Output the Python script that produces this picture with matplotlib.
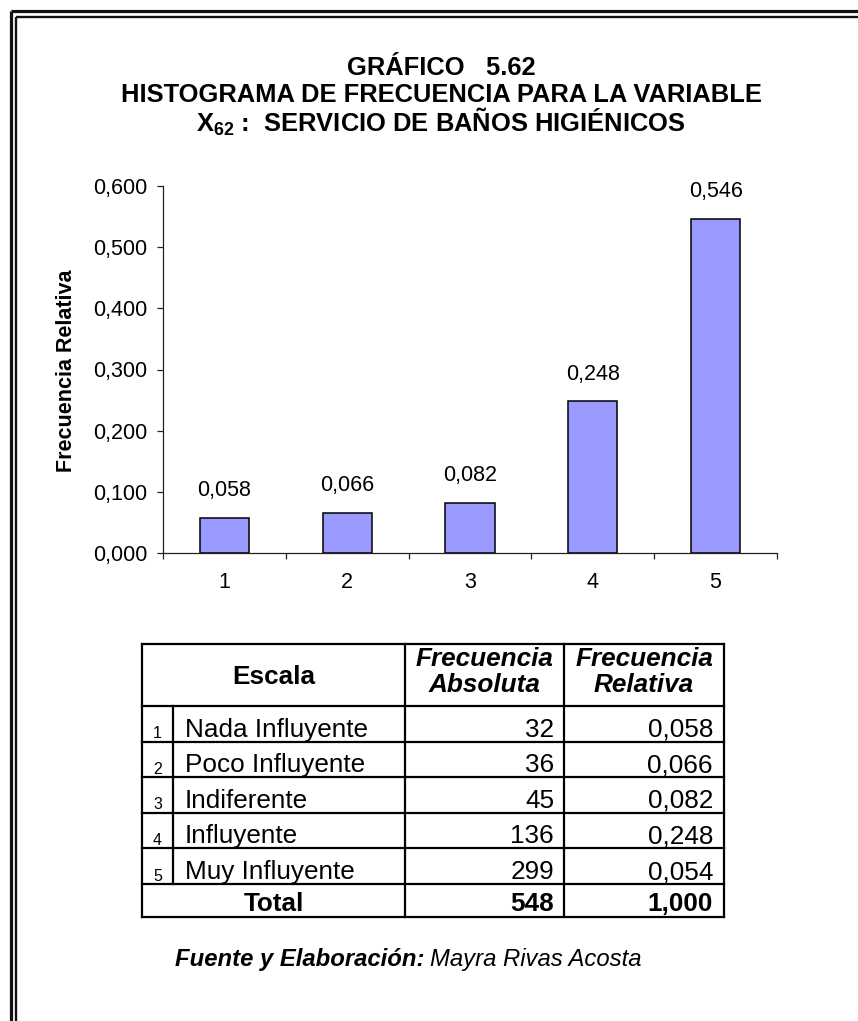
import matplotlib
matplotlib.use('Agg')
import matplotlib.pyplot as plt
from matplotlib.ticker import FuncFormatter

plt.rcParams['font.family'] = ['Liberation Sans', 'DejaVu Sans']
plt.rcParams['mathtext.fontset'] = 'custom'
plt.rcParams['mathtext.rm'] = 'Liberation Sans:bold'
plt.rcParams['mathtext.it'] = 'Liberation Sans:bold:italic'
plt.rcParams['mathtext.bf'] = 'Liberation Sans:bold'

# ---------------- data ----------------
categories = ['1', '2', '3', '4', '5']
rel_freq = [0.058, 0.066, 0.082, 0.248, 0.546]
y_ticks = [0.0, 0.1, 0.2, 0.3, 0.4, 0.5, 0.6]
scale_names = ['Nada Influyente', 'Poco Influyente', 'Indiferente', 'Influyente', 'Muy Influyente']
abs_freq = [32, 36, 45, 136, 299]
table_rel = ['0,058', '0,066', '0,082', '0,248', '0,054']
total_abs = '548'
total_rel = '1,000'

title_lines = ['GRÁFICO   5.62',
               'HISTOGRAMA DE FRECUENCIA PARA LA VARIABLE',
               r'X$_{62}$ :  SERVICIO DE BAÑOS HIGIÉNICOS']
y_label = 'Frecuencia Relativa'


def comma(v):
    return f"{v:.3f}".replace('.', ',')


W, H = 858, 1021
fig = plt.figure(figsize=(W / 100, H / 100), dpi=100)

# overlay axes in pixel coordinates for frame, titles and table
oax = fig.add_axes([0, 0, 1, 1])
oax.set_xlim(0, W)
oax.set_ylim(H, 0)
oax.axis('off')

# ---------------- chart ----------------
L, R, B, T = 163, 777, 553, 186
ax = fig.add_axes([L / W, 1 - B / H, (R - L) / W, (B - T) / H])
xs = list(range(len(categories)))
ax.bar(xs, rel_freq, width=0.4, color='#9999FF', edgecolor='black', linewidth=1.1, zorder=3)
ax.set_xlim(-0.5, len(categories) - 0.5)
ax.set_ylim(0, 0.6)
ax.set_facecolor('none')
for s in ['top', 'right']:
    ax.spines[s].set_visible(False)
for s in ['left', 'bottom']:
    ax.spines[s].set_linewidth(0.9)
    ax.spines[s].set_color('#222222')

ax.set_xticks([i - 0.5 for i in range(len(categories) + 1)])
ax.set_xticklabels([])
ax.set_xticks(xs, minor=True)
ax.set_xticklabels(categories, minor=True)
ax.tick_params(axis='x', which='major', direction='out', length=4, width=0.9, color='#222222')
ax.tick_params(axis='x', which='minor', length=0, pad=14, labelsize=15.5)
ax.set_yticks(y_ticks)
ax.yaxis.set_major_formatter(FuncFormatter(lambda v, p: comma(v)))
ax.tick_params(axis='y', direction='out', length=4.3, width=0.9, color='#222222', pad=7, labelsize=15.5)

for xi, v in zip(xs, rel_freq):
    ax.annotate(comma(v), (xi, v), xytext=(0, 19.5), textcoords='offset points',
                ha='center', va='center', fontsize=15.5)

oax.text(66, 371, y_label, rotation=90, ha='center', va='center', fontsize=15.5, fontweight='bold')

# ---------------- frame ----------------
oax.plot([10.5, 10.5], [H, 11.5], color='#111111', lw=2.3, solid_capstyle='butt')
oax.plot([10.5, W], [11.5, 11.5], color='#111111', lw=2.3, solid_capstyle='butt')
oax.plot([15.5, 15.5], [H, 17], color='#111111', lw=1.7, solid_capstyle='butt')
oax.plot([15.5, W], [17, 17], color='#111111', lw=1.7, solid_capstyle='butt')

# ---------------- titles ----------------
for yb, t in zip([75, 101.5, 131.5], title_lines):
    oax.text(441, yb, t, ha='center', va='baseline', fontsize=18.4, fontweight='bold')

# ---------------- table ----------------
tl, tr = 142, 724
c1, c2, c3 = 173, 405, 564
top, hb = 644, 706
rh = (884 - 706) / 5
rows = [hb + i * rh for i in range(6)]
bottom = 917
lw = 1.6
for yy in [top] + rows + [bottom]:
    oax.plot([tl, tr], [yy, yy], color='black', lw=lw, solid_capstyle='projecting')
for xx in [tl, c2, c3, tr]:
    oax.plot([xx, xx], [top, bottom], color='black', lw=lw, solid_capstyle='projecting')
oax.plot([c1, c1], [hb, rows[-1]], color='black', lw=lw)

fs = 18.8
oax.text((tl + c2) / 2, 684, 'Escala', ha='center', va='baseline', fontsize=fs, fontweight='bold')
oax.text((c2 + c3) / 2, 666, 'Frecuencia', ha='center', va='baseline', fontsize=fs,
         fontweight='bold', fontstyle='italic')
oax.text((c2 + c3) / 2, 692, 'Absoluta', ha='center', va='baseline', fontsize=fs,
         fontweight='bold', fontstyle='italic')
oax.text((c3 + tr) / 2, 666, 'Frecuencia', ha='center', va='baseline', fontsize=fs,
         fontweight='bold', fontstyle='italic')
oax.text((c3 + tr) / 2, 692, 'Relativa', ha='center', va='baseline', fontsize=fs,
         fontweight='bold', fontstyle='italic')

for i, (cat, name, a, r) in enumerate(zip(categories, scale_names, abs_freq, table_rel)):
    base = rows[i + 1] - 5
    oax.text((tl + c1) / 2, rows[i + 1] - 3.5, cat, ha='center', va='baseline', fontsize=11.5)
    oax.text(c1 + 12, base, name, ha='left', va='baseline', fontsize=fs)
    oax.text(c3 - 10, base, str(a), ha='right', va='baseline', fontsize=fs)
    oax.text(tr - 11, base, r, ha='right', va='baseline', fontsize=fs)

base = bottom - 6
oax.text((tl + c2) / 2, base, 'Total', ha='center', va='baseline', fontsize=fs, fontweight='bold')
oax.text(c3 - 10, base, total_abs, ha='right', va='baseline', fontsize=fs, fontweight='bold')
oax.text(tr - 11, base, total_rel, ha='right', va='baseline', fontsize=fs, fontweight='bold')

# ---------------- source ----------------
src_fs = 17.2
src_a = oax.text(175, 966, 'Fuente y Elaboración:', ha='left', va='baseline', fontsize=src_fs,
                 fontweight='bold', fontstyle='italic')
fig.canvas.draw()
bb = src_a.get_window_extent()
inv = oax.transData.inverted()
x_end = inv.transform((bb.x1, bb.y0))[0]
oax.text(x_end + 5, 966, 'Mayra Rivas Acosta', ha='left', va='baseline', fontsize=src_fs,
         fontstyle='italic')

fig.savefig('out.png', dpi=100)
